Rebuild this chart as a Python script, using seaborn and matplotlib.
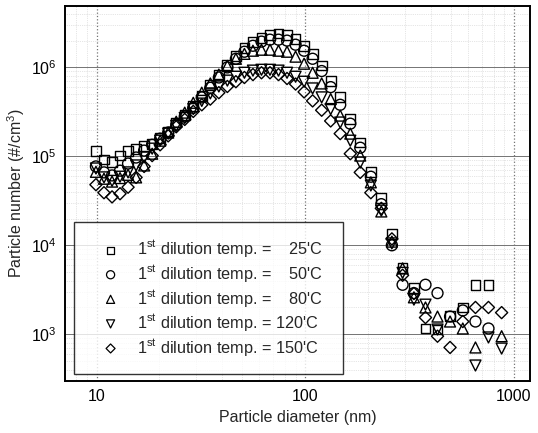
import numpy as np
import pandas as pd
import seaborn as sns
import matplotlib.pyplot as plt
from matplotlib.ticker import LogLocator, NullFormatter

nan = np.nan

# particle diameter (nm)
diameter = [9.92, 10.84, 11.85, 12.94, 14.14, 15.45, 16.88, 18.45, 20.15, 22.02,
            24.06, 26.43, 29.04, 31.90, 35.05, 38.51, 42.31, 46.48, 51.07, 56.11,
            61.65, 67.72, 74.40, 81.74, 89.81, 98.67, 108.4, 119.8, 132.3, 147.0,
            164.3, 183.4, 206.1, 231.4, 260.0, 292.6, 331.6, 376.7, 430.2, 494.1,
            568.7, 654.0, 755.0, 873.0]

# particle number (#/cm3) for each first dilution temperature
n_25 = [1.14e5, 9.2e4, 8.6e4, 1.02e5, 1.16e5, 1.22e5, 1.32e5, 1.39e5, 1.62e5, 1.9e5,
        2.4e5, 2.94e5, 3.7e5, 4.8e5, 6.4e5, 8.3e5, 1.07e6, 1.35e6, 1.66e6, 1.94e6,
        2.15e6, 2.33e6, 2.4e6, 2.33e6, 2.1e6, 1.75e6, 1.42e6, 1.05e6, 7.1e5, 4.6e5,
        2.65e5, 1.43e5, 6.6e4, 3.4e4, 1.35e4, 5.5e3, 3.3e3, 1.16e3, 1.13e3, 1.6e3,
        2.0e3, 3.6e3, 3.6e3, nan]
n_50 = [7.7e4, 6.6e4, 6.1e4, 6.9e4, 8.3e4, 9.7e4, 1.16e5, 1.35e5, 1.58e5, 1.85e5,
        2.27e5, 2.8e5, 3.5e5, 4.6e5, 5.9e5, 7.7e5, 1.0e6, 1.25e6, 1.5e6, 1.75e6,
        1.95e6, 2.05e6, 2.05e6, 2.0e6, 1.8e6, 1.54e6, 1.25e6, 9.1e5, 6.0e5, 3.8e5,
        2.33e5, 1.25e5, 5.9e4, 2.9e4, 1.0e4, 3.6e3, 2.9e3, 3.6e3, 2.9e3, 1.58e3,
        1.85e3, 1.39e3, 1.16e3, nan]
n_80 = [6.7e4, 5.6e4, 5.2e4, 5.7e4, 6.2e4, 5.8e4, 7.9e4, 1.07e5, 1.5e5, 1.85e5,
        2.45e5, 3.1e5, 4.0e5, 5.2e5, 6.6e5, 8.3e5, 1.04e6, 1.25e6, 1.42e6, 1.54e6,
        1.58e6, 1.58e6, 1.54e6, 1.5e6, 1.32e6, 1.1e6, 8.7e5, 6.6e5, 4.4e5, 2.87e5,
        1.8e5, 1.02e5, 5.1e4, 2.4e4, 1.1e4, 5.5e3, 2.6e3, 2.0e3, 1.58e3, 1.39e3,
        1.16e3, 7.1e2, nan, 9.5e2]
n_120 = [7.3e4, 5.8e4, 5.3e4, 5.9e4, 6.6e4, 7.9e4, 9.7e4, 1.22e5, 1.5e5, 1.8e5,
         2.2e5, 2.7e5, 3.4e5, 4.2e5, 5.1e5, 6.1e5, 7.1e5, 7.85e5, 8.7e5, 9.2e5,
         9.4e5, 9.4e5, 9.2e5, 8.7e5, 7.85e5, 6.9e5, 5.8e5, 4.6e5, 3.4e5, 2.4e5,
         1.5e5, 8.5e4, 4.7e4, 2.45e4, 1.05e4, 4.9e3, 2.45e3, 2.15e3, 1.13e3, nan,
         nan, 4.45e2, 9.2e2, 6.9e2]
n_150 = [4.8e4, 3.9e4, 3.5e4, 3.8e4, 4.5e4, 5.8e4, 7.7e4, 1.02e5, 1.35e5, 1.7e5,
         2.15e5, 2.6e5, 3.2e5, 3.8e5, 4.4e5, 5.2e5, 6.1e5, 6.9e5, 7.7e5, 8.3e5,
         8.7e5, 8.7e5, 8.3e5, 7.5e5, 6.5e5, 5.3e5, 4.2e5, 3.3e5, 2.5e5, 1.8e5,
         1.07e5, 6.6e4, 3.9e4, 2.6e4, 1.18e4, 4.6e3, 2.87e3, 1.54e3, 9.5e2, 7.1e2,
         1.39e3, 2.0e3, 2.0e3, 1.75e3]

temps = ['25', '50', '80', '120', '150']
markers = ['s', 'o', '^', 'v', 'D']
sizes = [50, 62, 62, 62, 38]
labels = ['1$^{st}$ dilution temp. =  \u200725\'C',
          '1$^{st}$ dilution temp. =  \u200750\'C',
          '1$^{st}$ dilution temp. =  \u200780\'C',
          '1$^{st}$ dilution temp. = 120\'C',
          '1$^{st}$ dilution temp. = 150\'C']

df = pd.DataFrame({'diameter': diameter, '25': n_25, '50': n_50, '80': n_80,
                   '120': n_120, '150': n_150})
long = df.melt(id_vars='diameter', var_name='temp', value_name='number').dropna()

sns.set_style('white')
plt.rcParams['font.family'] = ['Liberation Sans', 'DejaVu Sans']
plt.rcParams['mathtext.fontset'] = 'custom'
plt.rcParams['mathtext.rm'] = 'Liberation Sans'
plt.rcParams['mathtext.it'] = 'Liberation Sans'

fig = plt.figure(figsize=(5.38, 4.33), dpi=100)
ax = fig.add_axes([65 / 538, 1 - 381 / 433, 465 / 538, 375 / 433])

handles = []
for t, m, s, lab in zip(temps, markers, sizes, labels):
    sub = long[long['temp'] == t]
    sns.scatterplot(data=sub, x='diameter', y='number', marker=m, s=s,
                    facecolors='none', edgecolor='black', linewidth=1.0,
                    ax=ax, zorder=3)
    h = ax.scatter([], [], marker=m, s=s * 0.55, facecolors='none',
                   edgecolors='black', linewidths=0.9)
    handles.append(h)

ax.set_xscale('log')
ax.set_yscale('log')
ax.set_xlim(7.05, 1194)
ax.set_ylim(298, 4.9e6)

ax.xaxis.set_major_locator(LogLocator(base=10))
ax.xaxis.set_minor_locator(LogLocator(base=10, subs=np.arange(2, 10)))
ax.yaxis.set_major_locator(LogLocator(base=10))
ax.yaxis.set_minor_locator(LogLocator(base=10, subs=np.arange(2, 10)))
ax.xaxis.set_minor_formatter(NullFormatter())
ax.yaxis.set_minor_formatter(NullFormatter())
ax.set_xticks([10, 100, 1000])
ax.set_xticklabels(['10', '100', '1000'])

ax.grid(True, which='major', axis='y', color='0.45', linestyle='-', linewidth=0.7)
ax.grid(True, which='major', axis='x', color='0.45', linestyle=':', linewidth=0.9)
ax.grid(True, which='minor', color='0.8', linestyle=':', linewidth=0.5)

ax.tick_params(which='major', direction='in', length=6, width=1.2, labelsize=11.5,
               pad=6, colors='black')
ax.tick_params(which='minor', direction='in', length=3, width=0.9)
for sp in ax.spines.values():
    sp.set_color('black')
    sp.set_linewidth(1.4)

ax.set_xlabel('Particle diameter (nm)', fontsize=11.5, labelpad=4)
ax.set_ylabel('Particle number (#/cm$^3$)', fontsize=11.5, labelpad=3)

leg = ax.legend(handles, labels, loc='lower left',
                bbox_to_anchor=(0.0194, 0.0187, 0.579, 0.40), mode='expand',
                frameon=True, fancybox=False, fontsize=11.7, labelspacing=0.22,
                handletextpad=0.35, borderpad=1.0, handlelength=2.5,
                borderaxespad=0)
leg.get_frame().set_edgecolor('black')
leg.get_frame().set_linewidth(1.0)
leg.set_zorder(5)

fig.savefig('out.png', dpi=100)
